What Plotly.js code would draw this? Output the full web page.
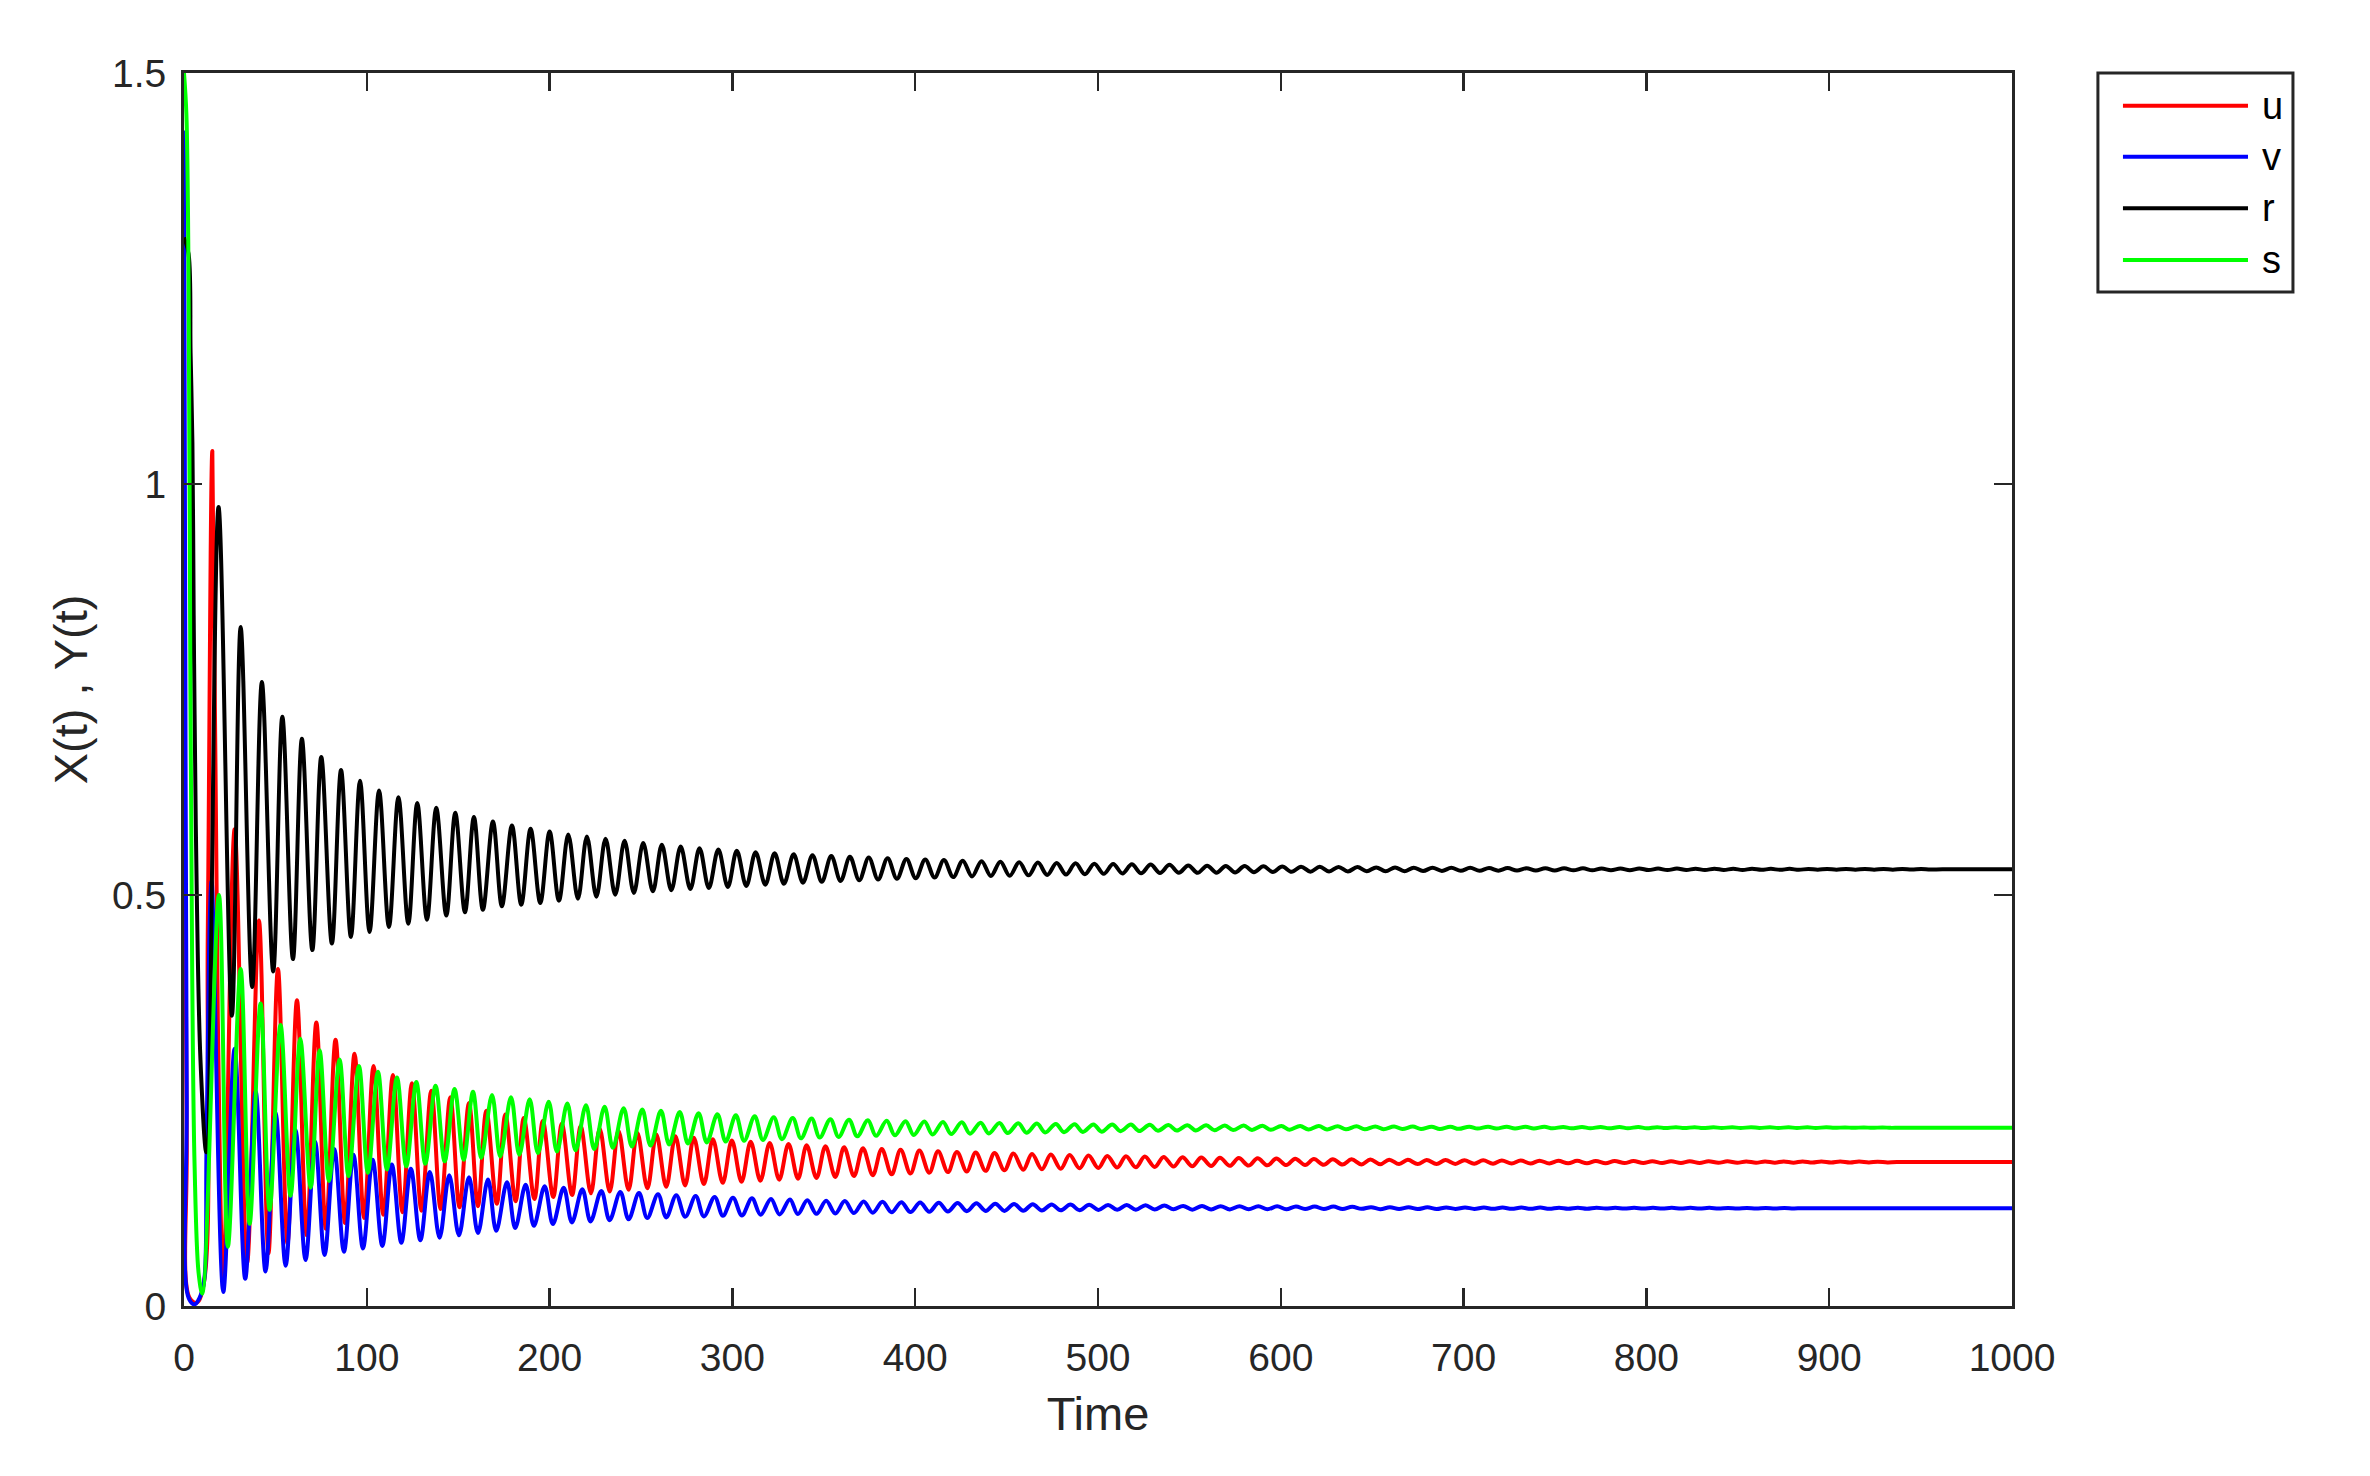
<!DOCTYPE html>
<html><head><meta charset="utf-8">
<script src="https://cdn.plot.ly/plotly-3.0.1.min.js"></script>
<style>html,body{margin:0;padding:0;background:#fff}#chart{width:2370px;height:1476px}</style>
</head><body><div id="chart"></div>
<script>
const seriesNames = ['u','v','r','s'];
const seriesColors = ['#ff0000','#0000ff','#000000','#00ff00'];
const xTickVals = [0,100,200,300,400,500,600,700,800,900,1000];
const xTickText = ['0','100','200','300','400','500','600','700','800','900','1000'];
const yTickVals = [0,0.5,1,1.5];
const yTickText = ['0','0.5','1','1.5'];
const xTitle = 'Time';
const yTitle = 'X(t) , Y(t)';

// u (red): [time, value] at read extrema
const uPts = [[0,0.77],[1.5,0.2],[3,0.01],[7,0.004],[11,0.03],[13,0.45],[15.5,1.04],[18.5,0.35],
[21.5,0.030],[27.7,0.58],[34.5,0.052],[41.0,0.469],[46.2,0.064],[51.4,0.410],[56.6,0.076],[61.8,0.372],[67.1,0.086],[72.4,0.345],[77.6,0.094],[82.9,0.324],[88.1,0.101],[93.3,0.307],[98.5,0.107],[103.7,0.292],[109.0,0.111],[114.3,0.281],[119.5,0.114],[124.7,0.271],[129.9,0.116],[135.3,0.262],[140.4,0.118],[145.7,0.254],[150.7,0.120],[155.9,0.247],[160.8,0.1215],
[165.4,0.2375],[171.1,0.1245],[175.8,0.233],[181.4,0.1275],[185.9,0.2288],[191.7,0.1302],[196.3,0.225],[202.0,0.1327],[206.7,0.2217],[212.3,0.135],[217.0,0.2186],[222.6,0.1372],[227.4,0.2158],[232.9,0.1393],[237.7,0.2132],[243.2,0.1413],[248.0,0.2108],[253.5,0.1432],[258.4,0.2086],[263.8,0.145],[268.8,0.2066],[274.1,0.1467],[278.9,0.2047],[284.4,0.1483],[289.3,0.2029],[294.7,0.1498],[299.7,0.2012],[305.0,0.1512],[310.0,0.1997],[315.3,0.1525],[320.4,0.1983],[325.6,0.1537],[330.7,0.197],[335.9,0.1549],
[340.6,0.1955],[346.0,0.1557],[350.9,0.1943],[356.3,0.1570],[361.1,0.1931],[366.5,0.1581],[371.4,0.1920],[376.8,0.1592],[381.7,0.1910],[387.1,0.1602],[392.0,0.1900],[397.4,0.1612],[402.3,0.1891],[407.7,0.1621],[412.5,0.1883],[417.9,0.1629],[422.8,0.1875],[428.2,0.1637],[433.1,0.1868],[438.5,0.1644],[443.4,0.1861],[448.8,0.1651],[453.7,0.1854],[459.1,0.1658],[463.9,0.1848],[469.3,0.1664],[474.2,0.1843],[479.6,0.1669],[484.5,0.1837],[489.9,0.1675],[494.8,0.1831],[500.2,0.1679],[505.1,0.1826],[510.5,0.1684],[515.3,0.1822],[520.7,0.1688],[525.6,0.1818],[531.0,0.1692],[535.9,0.1814],[541.3,0.1696],[546.2,0.1809],[551.6,0.1699],[556.5,0.1806],[561.9,0.1702],[566.7,0.1803],[572.1,0.1705],[577.0,0.1800],[582.4,0.1708],[587.3,0.1797],[592.7,0.1711],[597.6,0.1794],[603.0,0.1714],[607.9,0.1791],[613.3,0.1715],[618.1,0.1788],[623.5,0.1718],[628.4,0.1786],[633.8,0.1720],[638.7,0.1784],[644.1,0.1722],[649.0,0.1782],[654.4,0.1724],[659.3,0.1780],[664.7,0.1726],[669.5,0.1778],[674.9,0.1726],[679.8,0.1776],[685.2,0.1728],[690.1,0.1775],[695.5,0.1729],[700.4,0.1773],[705.8,0.1731],[710.7,0.1772],[716.1,0.1732],[720.9,0.1771],[726.3,0.1733],[731.2,0.1769],[736.6,0.1734],[741.5,0.1768],[746.9,0.1735],[751.8,0.1767],[757.2,0.1736],[762.1,0.1766],[767.5,0.1737],[772.3,0.1765],[777.7,0.1738],[782.6,0.1764],[788.0,0.1739],[792.9,0.1763],[798.3,0.1740],[803.2,0.1762],[808.6,0.1740],[813.5,0.1761],[818.9,0.1741],[823.7,0.1761],[829.1,0.1741],[834.0,0.1760],[839.4,0.1742],[844.3,0.1760],[849.7,0.1742],
[854.6,0.1759],[860.0,0.1743],[864.9,0.1758],[870.3,0.1744],[875.1,0.1758],[880.5,0.1744],[885.4,0.1758],[890.8,0.1745],[895.7,0.1757],[901.1,0.1745],[906.0,0.1757],[911.4,0.1745],[916.3,0.1757],[921.7,0.1746],[926.5,0.1756],[931.9,0.1746],[937.0,0.1751],[1000,0.1751]];

// v (blue)
const vPts = [[0,1.43],[0.6,0.9],[1.5,0.25],[2.5,0.01],[5.8,0.002],[8.5,0.01],[11,0.03],[12.3,0.19],[14.1,0.47],[15.1,0.517],
[21.5,0.017],[27.7,0.313],[33.5,0.033],[39.2,0.261],[44.6,0.042],[50.1,0.235],[55.6,0.049],[61.0,0.214],[66.5,0.056],[71.7,0.200],[76.9,0.062],[82.2,0.191],[87.5,0.066],[92.7,0.184],[97.9,0.070],[103.2,0.178],[108.5,0.073],[113.7,0.172],[118.9,0.077],[124.1,0.167],[129.3,0.080],[134.5,0.163],[139.8,0.083],[145.1,0.159],[150.4,0.086],[155.9,0.1566],[160.8,0.0887],[166.3,0.154],[170.8,0.0914],[176.7,0.1506],[181.2,0.0948],[186.9,0.1476],[191.4,0.0976],[197.3,0.1456],[201.8,0.0997],[207.7,0.1439],[212.2,0.1017],[217.9,0.1419],[222.4,0.1029],[228.3,0.1400],[232.8,0.1044],[238.7,0.1386],[243.2,0.1054],[248.9,0.1374],[253.4,0.107],[259.3,0.136],[263.8,0.1078],[269.3,0.1348],[274.2,0.1086],[279.9,0.1337],[284.4,0.109],[290.3,0.1327],[294.8,0.1098],[300.3,0.1318],[305.2,0.1102],[310.7,0.131],[315.4,0.111],[321.1,0.1302],[325.8,0.1114],[331.5,0.1295],[335.8,0.1118],
[341.0,0.1285],[346.0,0.1121],[351.3,0.1280],[356.3,0.1126],[361.5,0.1276],[366.5,0.1130],[371.8,0.1271],[376.8,0.1135],[382.1,0.1267],[387.1,0.1139],[392.4,0.1263],[397.4,0.1143],[402.7,0.1259],[407.7,0.1147],[412.9,0.1256],[417.9,0.1150],[423.2,0.1253],[428.2,0.1154],[433.5,0.1249],[438.5,0.1157],[443.8,0.1244],[448.8,0.1157],[454.1,0.1241],[459.1,0.1159],[464.3,0.1238],[469.3,0.1162],[474.6,0.1236],[479.6,0.1164],[484.9,0.1234],[489.9,0.1166],[495.2,0.1232],[500.2,0.1168],[505.5,0.1230],[510.5,0.1170],[515.7,0.1228],[520.7,0.1172],[526.0,0.1226],[531.0,0.1174],[536.3,0.1224],[541.3,0.1176],[546.6,0.1218],[551.6,0.1172],[556.9,0.1217],[561.9,0.1174],[567.1,0.1215],[572.1,0.1175],[577.4,0.1214],[582.4,0.1176],[587.7,0.1213],[592.7,0.1177],[598.0,0.1212],[603.0,0.1178],[608.3,0.1211],[613.3,0.1179],[618.5,0.1210],[623.5,0.1180],[628.8,0.1209],[633.8,0.1181],[639.1,0.1208],[644.1,0.1182],[649.4,0.1202],[654.4,0.1178],[659.7,0.1201],[664.7,0.1179],[669.9,0.1201],[674.9,0.1179],[680.2,0.1200],[685.2,0.1180],[690.5,0.1199],[695.5,0.1181],[700.8,0.1199],[705.8,0.1181],[711.1,0.1198],[716.1,0.1182],[721.3,0.1198],[726.3,0.1182],[731.6,0.1197],[736.6,0.1183],[741.9,0.1197],[746.9,0.1183],[752.2,0.1196],[757.2,0.1184],[762.5,0.1196],[767.5,0.1184],[772.7,0.1196],[777.7,0.1185],[783.0,0.1195],[788.0,0.1185],[793.3,0.1195],[798.3,0.1185],
[803.6,0.1194],[808.6,0.1186],[813.9,0.1194],[818.9,0.1186],[824.1,0.1194],[829.1,0.1186],[834.4,0.1194],[839.4,0.1187],[844.7,0.1193],[849.7,0.1187],[855.0,0.1193],[860.0,0.1187],[865.3,0.1193],[870.3,0.1187],[875.5,0.1193],[880.5,0.1187],[886.0,0.1190],[1000,0.1190]];

// r (black)
const rPts = [[0,1.3],[2.5,1.28],[3.6,1.16],[4.6,1.05],[5.3,0.84],[5.8,0.72],[7,0.5],[9,0.3],[12.2,0.187],
[18.9,0.972],[26.2,0.353],[31.0,0.826],[37.3,0.388],[42.6,0.759],[48.8,0.407],[53.8,0.717],[59.6,0.422],[64.5,0.690],[70.2,0.433],[75.1,0.668],[80.9,0.441],[85.9,0.652],[91.3,0.449],[96.3,0.639],[101.5,0.455],[106.7,0.627],[112.1,0.461],[117.3,0.619],[122.7,0.465],[127.6,0.612],[132.9,0.470],[138.0,0.606],[143.5,0.475],[148.4,0.600],[153.7,0.479],[158.6,0.595],[163.5,0.482],[169.0,0.5895],[173.9,0.4863],[179.4,0.5846],[184.5,0.4882],[189.6,0.5805],[194.9,0.4903],[200.0,0.5773],[205.1,0.4931],[210.2,0.5737],[215.5,0.4955],[220.4,0.5712],[225.6,0.498],[230.6,0.5683],[235.9,0.5004],[241.0,0.5659],[246.1,0.5025],[251.2,0.5632],[256.5,0.5045],[261.4,0.561],[266.6,0.5058],[271.7,0.559],[277.0,0.5073],[282.0,0.557],[287.1,0.5086],[292.3,0.5554],[297.5,0.5098],[302.4,0.5537],[307.6,0.511],[312.7,0.5521],[318.0,0.5126],[323.1,0.5508],[328.2,0.5137],[333.5,0.5495],[338.6,0.515],
[343.8,0.5484],[348.9,0.5161],[354.1,0.5474],[359.2,0.5171],[364.3,0.5464],[369.4,0.5180],[374.6,0.5456],[379.7,0.5189],[384.9,0.5447],[390.0,0.5197],[395.2,0.5439],[400.3,0.5204],[405.5,0.5432],[410.6,0.5212],[415.7,0.5425],[420.8,0.5218],[426.0,0.5418],[431.1,0.5225],[436.3,0.5412],[441.4,0.5231],[446.6,0.5405],[451.7,0.5234],[456.9,0.5399],[462.0,0.5239],[467.1,0.5394],[472.2,0.5244],[477.4,0.5389],[482.5,0.5249],[487.7,0.5385],[492.8,0.5253],[498.0,0.5381],[503.1,0.5257],[508.3,0.5377],[513.4,0.5261],[518.5,0.5373],[523.6,0.5264],[528.8,0.5370],[533.9,0.5268],[539.1,0.5367],[544.2,0.5271],[549.4,0.5360],[554.5,0.5270],[559.7,0.5357],[564.8,0.5272],[569.9,0.5354],[575.0,0.5275],[580.2,0.5352],[585.3,0.5278],[590.5,0.5349],[595.6,0.5280],[600.8,0.5347],[605.9,0.5282],[611.1,0.5345],[616.2,0.5284],[621.3,0.5343],[626.4,0.5286],[631.6,0.5341],[636.7,0.5287],[641.9,0.5340],[647.0,0.5289],[652.2,0.5336],[657.3,0.5289],[662.5,0.5335],[667.6,0.5290],[672.7,0.5333],[677.8,0.5292],[683.0,0.5332],[688.1,0.5293],[693.3,0.5331],[698.4,0.5294],[703.6,0.5330],[708.7,0.5295],[713.9,0.5328],[719.0,0.5296],[724.1,0.5327],[729.2,0.5297],[734.4,0.5326],[739.5,0.5298],[744.7,0.5326],[749.8,0.5299],[755.0,0.5325],[760.1,0.5300],[765.3,0.5324],[770.4,0.5300],[775.5,0.5323],[780.6,0.5301],[785.8,0.5322],[790.9,0.5302],[796.1,0.5322],[801.2,0.5303],[806.4,0.5321],[811.5,0.5303],[816.7,0.5321],[821.8,0.5304],[826.9,0.5320],[832.0,0.5304],[837.2,0.5320],[842.3,0.5305],[847.5,0.5319],[852.6,0.5305],
[857.8,0.5319],[862.9,0.5306],[868.1,0.5318],[873.2,0.5306],[878.3,0.5318],[883.4,0.5306],[888.6,0.5317],[893.7,0.5307],[898.9,0.5317],[904.0,0.5307],[909.2,0.5317],[914.3,0.5308],[919.5,0.5316],[924.6,0.5308],[929.7,0.5316],[934.8,0.5308],[940.0,0.5316],[945.1,0.5309],[950.3,0.5315],[955.4,0.5309],[962.0,0.5312],[1000,0.5312]];

// s (green)
const sPts = [[0,1.5],[1.3,1.45],[2.5,1.25],[3.5,0.75],[4.5,0.4],[5.8,0.17],[8.0,0.04],[10.0,0.015],
[19.1,0.50],[24.0,0.072],[31.0,0.41],[35.9,0.100],[41.9,0.368],[46.8,0.117],[52.8,0.342],[58.3,0.134],[63.6,0.325],[69.3,0.144],[74.2,0.311],[79.3,0.152],[85.1,0.300],[90.0,0.158],[95.7,0.292],[100.6,0.162],[106.1,0.285],[111.0,0.166],[116.5,0.278],[121.6,0.170],[127.1,0.2725],[132.0,0.173],[137.6,0.268],[142.6,0.176],[148.0,0.264],[153.0,0.178],[158.1,0.2605],[162.6,0.180],[168.5,0.2566],[173.0,0.182],[178.9,0.254],[183.4,0.184],[189.1,0.2514],[193.6,0.186],[199.5,0.2486],[204.0,0.188],[209.7,0.2463],[214.2,0.1895],[219.9,0.2443],[224.4,0.191],[230.1,0.2425],[234.6,0.1925],[240.5,0.2407],[245.0,0.194],[250.7,0.239],[255.2,0.1953],[260.9,0.2374],[265.4,0.1966],[271.2,0.2359],[275.7,0.1978],[281.5,0.2345],[286.0,0.199],[291.8,0.2332],[296.3,0.2000],[301.9,0.232],[306.4,0.201],[312.2,0.2308],[316.7,0.202],[322.6,0.2297],[327.1,0.203],[333.0,0.2287],[337.5,0.204],
[343.3,0.2280],[347.8,0.2050],[353.6,0.2273],[358.1,0.2057],[363.8,0.2267],[368.3,0.2064],[374.1,0.2260],[378.6,0.2070],[384.4,0.2254],[388.9,0.2076],[394.7,0.2249],[399.2,0.2081],[405.0,0.2244],[409.5,0.2086],[415.2,0.2239],[419.7,0.2091],[425.5,0.2234],[430.0,0.2096],[435.8,0.2230],[440.3,0.2100],[446.1,0.2226],[450.6,0.2104],[456.4,0.2222],[460.9,0.2108],[466.6,0.2219],[471.1,0.2112],[476.9,0.2215],[481.4,0.2115],[487.2,0.2212],[491.7,0.2118],[497.5,0.2209],[502.0,0.2121],[507.8,0.2209],[512.3,0.2127],[518.0,0.2207],[522.5,0.2129],[528.3,0.2205],[532.8,0.2132],[538.6,0.2202],[543.1,0.2134],[548.9,0.2200],[553.4,0.2136],[559.2,0.2198],[563.7,0.2138],[569.4,0.2196],[573.9,0.2140],[579.7,0.2195],[584.2,0.2142],[590.0,0.2193],[594.5,0.2143],[600.3,0.2191],[604.8,0.2145],[610.6,0.2190],[615.1,0.2146],[620.8,0.2189],[625.3,0.2148],[631.1,0.2187],[635.6,0.2149],[641.4,0.2186],[645.9,0.2150],[651.7,0.2185],[656.2,0.2151],[662.0,0.2184],[666.5,0.2152],[672.2,0.2183],[676.7,0.2153],[682.5,0.2182],[687.0,0.2154],[692.8,0.2181],[697.3,0.2155],[703.1,0.2182],[707.6,0.2158],[713.4,0.2182],[717.9,0.2159],[723.6,0.2181],[728.1,0.2159],[733.9,0.2180],[738.4,0.2160],[744.2,0.2180],[748.7,0.2161],[754.5,0.2179],[759.0,0.2161],[764.8,0.2178],[769.3,0.2162],[775.0,0.2178],[779.5,0.2162],[785.3,0.2177],[789.8,0.2163],[795.6,0.2177],[800.1,0.2163],[805.9,0.2176],[810.4,0.2164],[816.2,0.2176],[820.7,0.2164],[826.4,0.2176],[830.9,0.2164],[836.7,0.2175],[841.2,0.2165],[847.0,0.2175],[851.5,0.2165],
[857.3,0.2175],[861.8,0.2166],[867.6,0.2174],[872.1,0.2166],[877.8,0.2174],[882.3,0.2166],[888.1,0.2174],[892.6,0.2166],[898.4,0.2174],[902.9,0.2167],[908.7,0.2173],[913.2,0.2167],[919.0,0.2173],[923.5,0.2167],[929.2,0.2173],[933.7,0.2167],[939.0,0.2170],[1000,0.2170]];

const allPts = [uPts, vPts, rPts, sPts];
const FONT = 'Liberation Sans, Arial, sans-serif';
const INK = '#262626';
const LW = 4;

const traces = allPts.map((pts, i) => ({
  type: 'scatter', mode: 'lines',
  x: pts.map(p => p[0]), y: pts.map(p => p[1]),
  name: seriesNames[i],
  line: {color: seriesColors[i], width: LW, shape: 'spline', smoothing: 1},
  hoverinfo: 'skip', showlegend: false
}));

// legend box (drawn in paper coordinates)
const legX0 = 1.047, legX1 = 1.1537, legY0 = 0.8224, legY1 = 1.0;
const legLineX0 = 1.0607, legLineX1 = 1.1291, legTextX = 1.1357;
const legRowY = [0.9735, 0.9321, 0.8903, 0.8483];
const shapes = [{type:'rect', xref:'paper', yref:'paper', x0:legX0, x1:legX1, y0:legY0, y1:legY1,
  line:{color:INK, width:3}, fillcolor:'#ffffff', layer:'above'}];
const annotations = [];
seriesNames.forEach((nm, i) => {
  shapes.push({type:'line', xref:'paper', yref:'paper', x0:legLineX0, x1:legLineX1, y0:legRowY[i], y1:legRowY[i],
    line:{color:seriesColors[i], width:LW}, layer:'above'});
  annotations.push({xref:'paper', yref:'paper', x:legTextX, y:legRowY[i], text:nm, showarrow:false,
    xanchor:'left', yanchor:'middle', font:{family:FONT, size:38, color:'#000'}});
});

const axisCommon = {
  showgrid:false, zeroline:false, showline:true, linecolor:INK, linewidth:3,
  mirror:'ticks', ticks:'inside', ticklen:18, tickwidth:2.5, tickcolor:INK,
  tickfont:{family:FONT, size:39, color:INK}, automargin:false
};

const layout = {
  width:2370, height:1476,
  margin:{l:184, r:358, t:73, b:170, pad:0},
  paper_bgcolor:'#ffffff', plot_bgcolor:'#ffffff',
  showlegend:false,
  xaxis: Object.assign({}, axisCommon, {
    range:[0,1000], tickvals:xTickVals, ticktext:xTickText, ticklabelstandoff:15,
    title:{text:xTitle, font:{family:FONT, size:47, color:INK}, standoff:20}
  }),
  yaxis: Object.assign({}, axisCommon, {
    range:[0,1.5], tickvals:yTickVals, ticktext:yTickText, ticklabelstandoff:7,
    title:{text:yTitle, font:{family:FONT, size:47, color:INK}, standoff:10}
  }),
  shapes: shapes,
  annotations: annotations
};

Plotly.newPlot('chart', traces, layout, {displayModeBar:false, staticPlot:true});
</script>
</body></html>
